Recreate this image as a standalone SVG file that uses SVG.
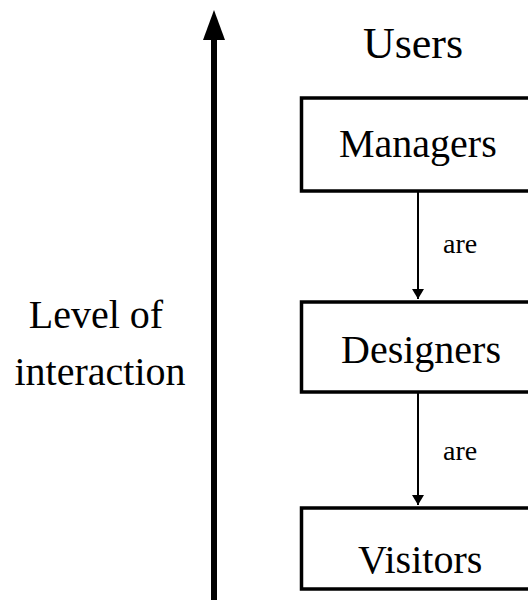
<svg xmlns="http://www.w3.org/2000/svg" width="528" height="600" viewBox="0 0 528 600">
<style>
.t{font-family:"Liberation Serif","Times New Roman",serif;fill:#000}
.big{font-size:40px}
.lbl{font-size:28px}
.box{fill:#fff;stroke:#000;stroke-width:3.5}
.con{stroke:#000;stroke-width:2;fill:none}
</style>
<defs>
<marker id="ah" viewBox="0 0 10 12" refX="10" refY="6" markerWidth="10" markerHeight="12" markerUnits="userSpaceOnUse" orient="auto">
<path d="M0,0 L10,6 L0,12 Z" fill="#000"/>
</marker>
</defs>
<rect width="528" height="600" fill="#fff"/>
<g id="axis">
<line x1="214" y1="600" x2="214" y2="38" stroke="#000" stroke-width="6"/>
<polygon points="214,10 203,40 225,40" fill="#000"/>
<text class="t big" x="96" y="328" text-anchor="middle">Level of</text>
<text class="t big" x="100" y="385" text-anchor="middle">interaction</text>
</g>
<g id="users">
<text class="t" style="font-size:44px" x="413" y="58" text-anchor="middle">Users</text>
</g>
<g id="managers">
<rect class="box" x="301.5" y="98" width="240" height="93"/>
<text class="t big" x="339" y="157">Managers</text>
</g>
<g id="designers">
<rect class="box" x="301.5" y="302" width="240" height="90"/>
<text class="t big" x="341" y="363">Designers</text>
</g>
<g id="visitors">
<rect class="box" x="301.5" y="508" width="240" height="81"/>
<text class="t big" x="358" y="573">Visitors</text>
</g>
<g id="connectors">
<line class="con" x1="418" y1="192" x2="418" y2="299" marker-end="url(#ah)"/>
<text class="t lbl" x="443" y="253">are</text>
<line class="con" x1="418" y1="393" x2="418" y2="505" marker-end="url(#ah)"/>
<text class="t lbl" x="443" y="460">are</text>
</g>
</svg>
